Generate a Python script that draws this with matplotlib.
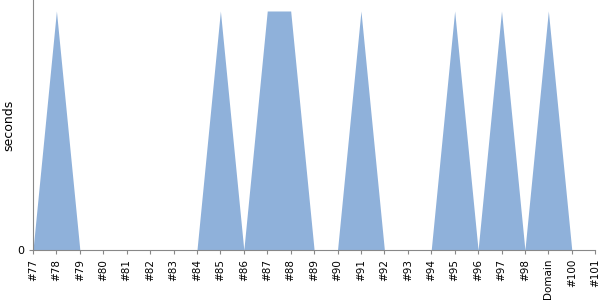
import matplotlib
matplotlib.use("Agg")
import matplotlib.pyplot as plt

labels = ["#77", "#78", "#79", "#80", "#81", "#82", "#83", "#84", "#85", "#86",
          "#87", "#88", "#89", "#90", "#91", "#92", "#93", "#94", "#95", "#96",
          "#97", "#98", "Domain", "#100", "#101"]
values = [0, 1, 0, 0, 0, 0, 0, 0, 1, 0,
          1, 1, 0, 0, 1, 0, 0, 0, 1, 0,
          1, 0, 1, 0, 0]

fig = plt.figure(figsize=(6, 3), dpi=100)
ax = fig.add_axes([0.055, 0.167, 0.937, 0.833])
x = list(range(len(labels)))
ax.fill_between(x, values, 0, color="#8fb1da", linewidth=0)
ax.set_xlim(0, len(labels) - 1)
ax.set_ylim(0, 1.046)
ax.set_xticks(x)
ax.set_xticklabels(labels, rotation=90, fontsize=7.5)
ax.set_yticks([0])
ax.set_yticklabels(["0"], fontsize=8)
ax.set_ylabel("seconds", fontsize=9)
ax.yaxis.set_label_coords(-0.031, 0.5)
for s in ["top", "right"]:
    ax.spines[s].set_visible(False)
for s in ["left", "bottom"]:
    ax.spines[s].set_color("#888888")
ax.tick_params(axis="both", length=3, color="#888888")
fig.savefig("out.png")
